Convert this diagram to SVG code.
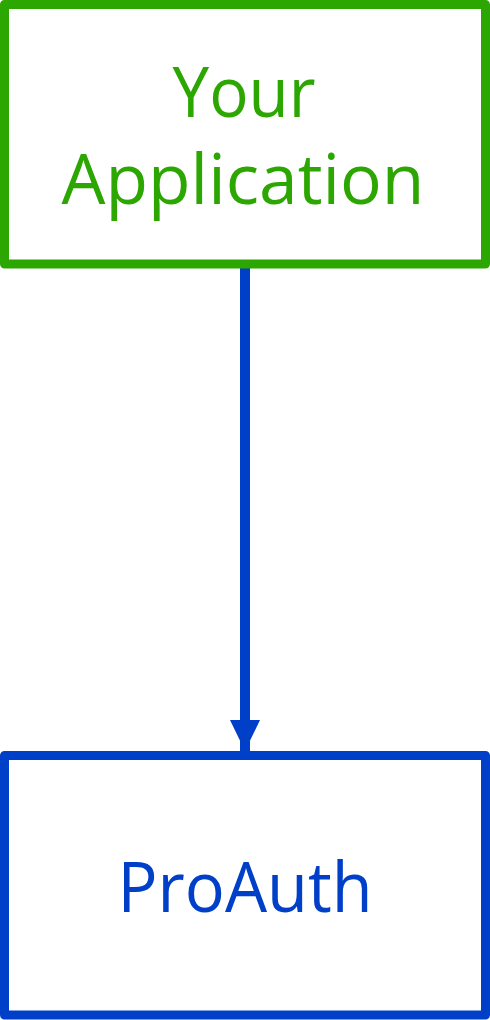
<svg xmlns="http://www.w3.org/2000/svg" width="490" height="1020" viewBox="0 0 490 1020">
<style>
.box{fill:#ffffff;stroke-width:9;stroke-linejoin:round}
.lbl{font-family:"Open Sans","Noto Sans","Liberation Sans",sans-serif;font-size:69px;text-anchor:middle}
</style>
<defs>
<marker id="ah" markerUnits="userSpaceOnUse" markerWidth="32" markerHeight="30" refX="31" refY="15" orient="auto">
<path d="M0,0 L31,15 L0,30 Z" fill="#0040c8"/>
</marker>
</defs>
<rect width="490" height="1020" fill="#ffffff"/>
<g id="connectors">
<line x1="245" y1="268" x2="245" y2="751" stroke="#0040c8" stroke-width="10" marker-end="url(#ah)"/>
</g>
<g id="app">
<rect class="box" x="4.5" y="4.5" width="481" height="259.5" stroke="#2ca600"/>
<text class="lbl" x="244" y="117" fill="#2ca600" textLength="143" lengthAdjust="spacingAndGlyphs">Your</text>
<text class="lbl" x="243" y="204" fill="#2ca600" textLength="363" lengthAdjust="spacingAndGlyphs">Application</text>
</g>
<g id="proauth">
<rect class="box" x="4.5" y="755.5" width="481" height="259.5" stroke="#0040c8"/>
<text class="lbl" x="245" y="912" fill="#0040c8" textLength="255" lengthAdjust="spacingAndGlyphs">ProAuth</text>
</g>
</svg>
